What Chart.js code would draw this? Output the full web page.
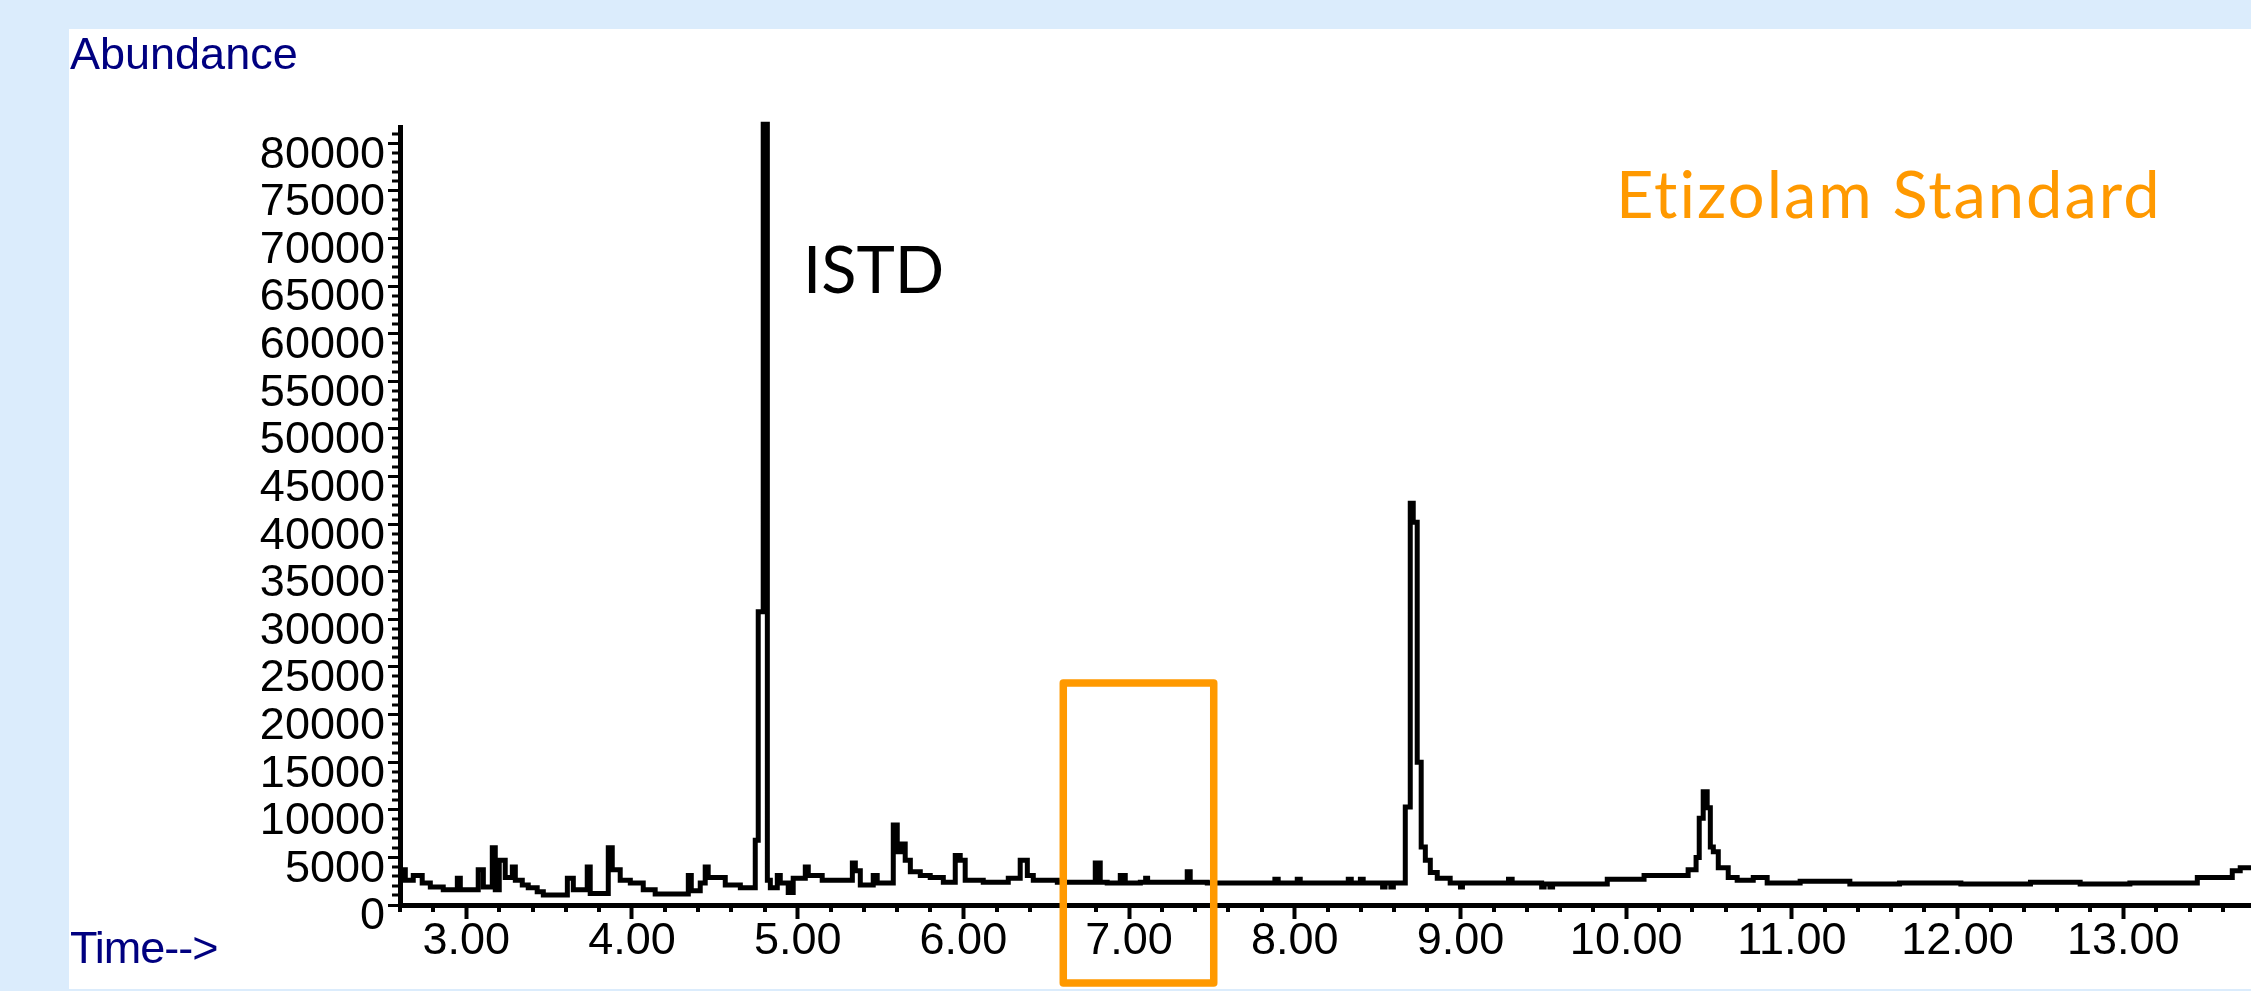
<!DOCTYPE html>
<html>
<head>
<meta charset="utf-8">
<script src="https://cdn.jsdelivr.net/npm/chart.js@4.4.1/dist/chart.umd.min.js"></script>
<style>
  html, body { margin: 0; padding: 0; }
  body { width: 2251px; height: 991px; background: #dbecfc; position: relative; overflow: hidden; }
  #panel { position: absolute; left: 69px; top: 29px; width: 2182px; height: 960px; background: #fff; }
  #chart { position: absolute; left: 0; top: 0; }
</style>
</head>
<body>
<div id="panel"></div>
<canvas id="chart" width="2251" height="991"></canvas>
<script>
// retention time (min) where each step of the trace starts
const retentionTimes = [
  2.602, 2.632, 2.680, 2.734, 2.783, 2.861, 2.946, 2.964, 3.072, 3.103,
  3.157, 3.175, 3.199, 3.235, 3.278, 3.296, 3.338, 3.374, 3.428, 3.465,
  3.610, 3.646, 3.730, 3.748, 3.857, 3.881, 3.929, 3.990, 4.068, 4.140,
  4.340, 4.358, 4.412, 4.442, 4.460, 4.563, 4.654, 4.744, 4.762, 4.792,
  4.817, 4.835, 4.877, 4.895, 4.943, 4.973, 5.046, 5.064, 5.148, 5.330,
  5.348, 5.378, 5.456, 5.480, 5.577, 5.601, 5.631, 5.649, 5.680, 5.740,
  5.800, 5.879, 5.951, 5.981, 6.011, 6.120, 6.271, 6.343, 6.386, 6.422,
  6.567, 6.796, 6.826, 6.868, 6.947, 6.977, 7.068, 7.100, 7.112, 7.351,
  7.369, 7.472, 7.880, 7.900, 8.015, 8.033, 8.323, 8.341, 8.396, 8.413,
  8.530, 8.545, 8.580, 8.595, 8.667, 8.697, 8.715, 8.739, 8.763, 8.788,
  8.818, 8.860, 8.938, 9.000, 9.012, 9.290, 9.312, 9.490, 9.505, 9.540,
  9.556, 9.886, 10.108, 10.374, 10.422, 10.441, 10.465, 10.489, 10.508, 10.526,
  10.556, 10.616, 10.670, 10.767, 10.851, 11.05, 11.35, 11.65, 12.02, 12.44,
  12.74, 13.04, 13.447, 13.658, 13.706, 13.771
];
const abundances = [
  3700, 2600, 3100, 2300, 1900, 1600, 2800, 1600, 3700, 1900,
  6000, 1600, 4700, 2900, 4000, 2600, 2100, 1800, 1400, 1050,
  2800, 1600, 4000, 1200, 6000, 3700, 2600, 2300, 1600, 1150,
  3100, 1500, 2300, 4000, 2900, 2100, 1800, 6800, 30800, 82000,
  2600, 1800, 3100, 2300, 1300, 2800, 4000, 3100, 2600, 4400,
  3600, 2100, 3100, 2300, 8400, 5600, 6400, 4700, 3500, 3100,
  2900, 2400, 5200, 4700, 2600, 2400, 2800, 4700, 3100, 2600,
  2400, 4400, 2400, 2300, 3100, 2300, 2400, 2800, 2400, 3500,
  2400, 2300, 2700, 2300, 2700, 2300, 2700, 2300, 2700, 2300,
  1900, 2300, 1900, 2300, 10300, 42200, 40200, 15000, 6100, 4700,
  3400, 2800, 2300, 1900, 2300, 2700, 2300, 1900, 2200, 1900,
  2200, 2700, 3100, 3700, 5000, 9100, 11900, 10200, 6100, 5600,
  3900, 2900, 2600, 2900, 2300, 2500, 2200, 2300, 2200, 2400,
  2200, 2300, 2900, 3600, 3900, 3900
];

const xTickValues = [3, 4, 5, 6, 7, 8, 9, 10, 11, 12, 13];
const yTickValues = [0, 5000, 10000, 15000, 20000, 25000, 30000, 35000, 40000,
  45000, 50000, 55000, 60000, 65000, 70000, 75000, 80000];
const xMinorStep = 0.2;
const yMinorStep = 1000;

// highlighted window drawn in orange
const boxTimes = [6.603, 7.511];
const boxAbundances = [23300, -8200];

const tickFont = { family: "Liberation Sans", size: 45, lineHeight: 1 };

const decorations = {
  id: "decorations",
  afterDraw(chart) {
    const { ctx, scales: { x, y } } = chart;
    ctx.save();

    // minor ticks
    ctx.fillStyle = "#000";
    for (let v = Math.ceil(x.min / xMinorStep) * xMinorStep; v <= x.max; v += xMinorStep) {
      if (Math.abs(v - Math.round(v)) < 1e-6) continue;
      const px = x.getPixelForValue(v);
      ctx.fillRect(Math.round(px) - 2, x.top, 4, 7);
    }
    for (let v = yMinorStep; v <= y.max; v += yMinorStep) {
      if (v % 5000 === 0) continue;
      const py = y.getPixelForValue(v);
      ctx.fillRect(y.right - 8, Math.round(py) - 1.5, 8, 3);
    }

    // orange box
    ctx.strokeStyle = "#ff9900";
    ctx.lineWidth = 7.5;
    ctx.lineJoin = "round";
    const bx0 = x.getPixelForValue(boxTimes[0]);
    const bx1 = x.getPixelForValue(boxTimes[1]);
    const by0 = y.getPixelForValue(boxAbundances[0]);
    const by1 = y.getPixelForValue(boxAbundances[1]);
    ctx.strokeRect(bx0, by0, bx1 - bx0, by1 - by0);

    // texts
    ctx.textBaseline = "alphabetic";
    ctx.textAlign = "left";
    ctx.font = '45px "Liberation Sans"';
    ctx.fillStyle = "#000080";
    ctx.fillText("Abundance", 70, 69);
    ctx.letterSpacing = "-1px";
    ctx.fillText("Time-->", 70, 963);
    ctx.letterSpacing = "0px";

    ctx.font = '65px Lato';
    ctx.fillStyle = "#000";
    ctx.fillText("ISTD", 803, 293);
    ctx.fillStyle = "#ff9900";
    ctx.letterSpacing = "2px";
    ctx.fillText("Etizolam Standard", 1616, 218);

    ctx.restore();
  }
};

const ctx = document.getElementById("chart").getContext("2d");
new Chart(ctx, {
  type: "line",
  data: {
    datasets: [{
      data: retentionTimes.map((t, i) => ({ x: t, y: abundances[i] })),
      borderColor: "#000",
      borderWidth: 5,
      pointRadius: 0,
      stepped: true,
      fill: false,
      clip: false,
      borderJoinStyle: "miter",
      borderCapStyle: "butt"
    }]
  },
  options: {
    responsive: false,
    animation: false,
    events: [],
    layout: { padding: { left: 0, right: 0, top: 127, bottom: 0 } },
    plugins: { legend: { display: false }, tooltip: { enabled: false }, title: { display: false } },
    scales: {
      x: {
        type: "linear",
        min: 2.6,
        max: 13.771,
        afterBuildTicks: s => { s.ticks = xTickValues.map(v => ({ value: v })); },
        afterFit: s => { s.height = 86; },
        border: { display: true, color: "#000", width: 5 },
        grid: { drawOnChartArea: false, drawTicks: true, tickLength: 14, tickWidth: 4, tickColor: "#000" },
        ticks: {
          color: "#000", font: tickFont, padding: 0, maxRotation: 0, autoSkip: false,
          callback: v => Number(v).toFixed(2)
        }
      },
      y: {
        type: "linear",
        min: 0,
        max: 81700,
        afterBuildTicks: s => { s.ticks = yTickValues.map(v => ({ value: v })); },
        afterFit: s => { s.width = 400; },
        border: { display: true, color: "#000", width: 5 },
        grid: { drawOnChartArea: false, drawTicks: true, tickLength: 12, tickWidth: 3, tickColor: "#000" },
        ticks: {
          color: "#000", font: tickFont, padding: 3, labelOffset: 12, autoSkip: false,
          callback: v => String(v)
        }
      }
    }
  },
  plugins: [decorations]
});
</script>
</body>
</html>
